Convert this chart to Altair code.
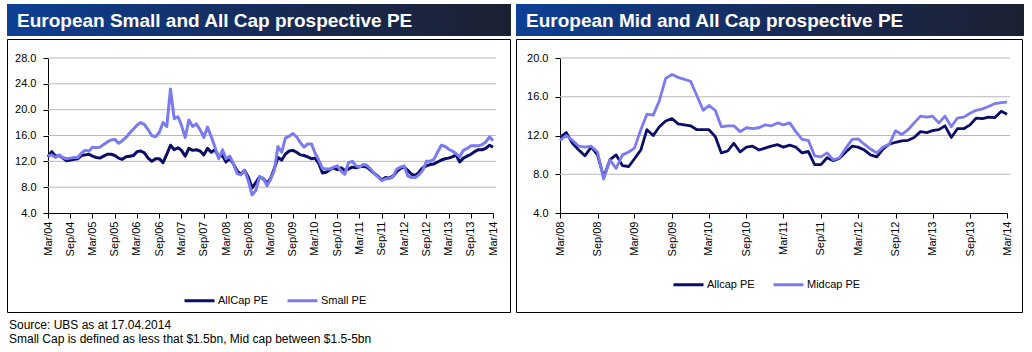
import altair as alt
import pandas as pd

# ---------------- data ----------------
TITLES = ["European Small and All Cap prospective PE",
          "European Mid and All Cap prospective PE"]
NOTES = ["Source: UBS as at 17.04.2014",
         "Small Cap is defined as less that $1.5bn, Mid cap between $1.5-5bn"]

LEFT_SERIES = ["AllCap PE", "Small PE"]
LEFT_START = "2004-03-01"
LEFT_ALLCAP = [
    12.7, 13.5, 12.8, 12.9, 12.5, 12.1, 12.2, 12.3, 12.4, 12.9,
    13.0, 13.1, 12.8, 12.6, 12.5, 12.8, 13.1, 13.1, 12.9, 12.5,
    12.3, 12.7, 12.8, 12.9, 13.5, 13.6, 13.3, 12.5, 12.0, 12.4,
    12.4, 11.8, 13.1, 14.5, 13.8, 14.1, 13.7, 12.8, 14.0, 13.7,
    13.8, 13.6, 13.0, 14.0, 13.4, 13.8, 12.7, 12.9, 11.9, 12.4,
    11.6, 10.5, 10.0, 10.6, 9.5, 7.9, 8.7, 9.6, 9.3, 8.6,
    9.3, 10.9, 12.6, 12.2, 13.1, 13.6, 13.7, 13.4, 13.0, 12.9,
    12.7, 12.4, 12.5, 11.7, 10.2, 10.3, 10.7, 11.0, 10.7, 11.0,
    10.6, 10.8, 11.1, 11.0, 11.2, 11.2, 11.1, 10.6, 10.1, 9.7,
    9.1, 9.5, 9.4, 9.7, 10.4, 10.9, 11.1, 10.6, 10.0, 9.8,
    10.3, 11.0, 11.3, 11.5, 11.6, 11.9, 12.2, 12.4, 12.5, 12.7,
    13.0, 11.9, 12.5, 12.8, 13.1, 13.5, 13.8, 13.8, 14.0, 14.5,
    14.2]
LEFT_SMALL = [
    12.8, 13.0, 12.6, 13.0, 12.6, 12.4, 12.5, 12.6, 12.6, 13.3,
    13.7, 13.6, 14.2, 14.1, 14.2, 14.6, 15.0, 15.3, 15.4, 14.8,
    15.2, 15.7, 16.4, 17.0, 17.6, 18.0, 17.7, 16.9, 16.0, 15.8,
    16.5, 18.0, 17.4, 23.2, 18.6, 18.9, 17.6, 15.7, 18.4, 17.4,
    17.8, 16.9, 15.7, 17.3, 15.8, 14.2, 12.4, 13.8, 12.4, 12.8,
    11.6, 10.1, 9.9, 10.6, 8.9, 6.8, 7.5, 9.6, 9.4, 8.2,
    9.2, 10.6, 14.3, 13.4, 15.6, 15.9, 16.3, 15.8, 14.9, 14.2,
    14.7, 14.7, 13.3, 12.2, 10.9, 10.8, 10.8, 11.1, 11.3, 10.5,
    10.0, 11.8, 12.0, 11.3, 11.1, 11.5, 11.4, 10.8, 10.1, 9.6,
    9.0, 9.3, 9.3, 9.6, 10.8, 11.1, 11.3, 9.7, 9.5, 9.5,
    9.9, 10.6, 12.0, 12.0, 12.3, 13.4, 14.5, 14.3, 13.9, 13.6,
    13.2, 12.7, 13.7, 14.0, 14.4, 14.4, 14.4, 14.6, 15.0, 15.8,
    15.2]
LEFT_Y_TICKS = [4.0, 8.0, 12.0, 16.0, 20.0, 24.0, 28.0]
LEFT_X_LABELS = ["Mar/04", "Sep/04", "Mar/05", "Sep/05", "Mar/06", "Sep/06",
                 "Mar/07", "Sep/07", "Mar/08", "Sep/08", "Mar/09", "Sep/09",
                 "Mar/10", "Sep/10", "Mar/11", "Sep/11", "Mar/12", "Sep/12",
                 "Mar/13", "Sep/13", "Mar/14"]

RIGHT_SERIES = ["Allcap PE", "Midcap PE"]
RIGHT_START = "2008-03-01"
RIGHT_ALLCAP = [
    11.8, 12.3, 11.2, 10.5, 9.9, 10.8, 10.0, 7.7, 9.5, 10.0,
    8.9, 8.8, 9.6, 10.5, 12.6, 12.0, 12.9, 13.5, 13.75, 13.2,
    13.1, 13.0, 12.6, 12.6, 12.6, 11.9, 10.2, 10.4, 11.2, 10.3,
    10.8, 10.9, 10.5, 10.7, 10.9, 11.05, 10.8, 11.0, 10.8, 10.2,
    10.35, 9.0, 9.0, 9.7, 9.4, 9.65, 10.3, 10.9, 10.8, 10.5,
    10.0, 9.8, 10.6, 11.1, 11.3, 11.45, 11.5, 11.8, 12.4, 12.3,
    12.5, 12.6, 13.0, 11.8, 12.7, 12.7, 13.1, 13.8, 13.75, 13.9,
    13.85, 14.5, 14.2]
RIGHT_MIDCAP = [
    11.5, 12.0, 11.5, 10.9, 10.8, 10.9, 10.3, 7.5, 9.5, 8.6,
    10.0, 10.3, 10.7, 12.6, 14.2, 14.1, 15.6, 17.9, 18.3, 18.0,
    17.8, 17.6, 16.1, 14.6, 15.1, 14.6, 12.9, 13.0, 13.0, 12.4,
    12.8, 12.7, 12.8, 13.1, 13.0, 13.3, 13.1, 13.3, 12.4, 11.6,
    11.5, 9.9, 9.8, 10.2, 9.5, 9.7, 10.7, 11.6, 11.65, 11.1,
    10.6, 10.2, 10.8, 11.1, 12.5, 12.1, 12.6, 13.3, 14.0, 13.9,
    14.0, 13.3, 14.0, 12.9, 13.8, 13.9, 14.3, 14.6, 14.75, 15.0,
    15.3, 15.4, 15.45]
RIGHT_Y_TICKS = [4.0, 8.0, 12.0, 16.0, 20.0]
RIGHT_X_LABELS = ["Mar/08", "Sep/08", "Mar/09", "Sep/09", "Mar/10", "Sep/10",
                  "Mar/11", "Sep/11", "Mar/12", "Sep/12", "Mar/13", "Sep/13",
                  "Mar/14"]

# ---------------- style ----------------
W, H = 1032, 352
Y_TOP, Y_BOTTOM = 58, 213
DARK = "#0b0b68"
LIGHT = "#7b7bf0"
FONT = "Liberation Sans"
NARROW = "Liberation Sans Narrow, Arial Narrow, Liberation Sans"
MONTHS = {"Jan": 1, "Feb": 2, "Mar": 3, "Apr": 4, "May": 5, "Jun": 6,
          "Jul": 7, "Aug": 8, "Sep": 9, "Oct": 10, "Nov": 11, "Dec": 12}


def to_dt(label):
    m, y = label.split("/")
    return alt.DateTime(year=2000 + int(y), month=MONTHS[m], date=1)


def series_frame(start, names, a, b):
    dates = pd.date_range(start, periods=len(a), freq="MS").strftime("%Y-%m-%dT00:00:00").tolist()
    return pd.DataFrame({
        "date": dates + dates,
        "value": a + b,
        "series": [names[0]] * len(a) + [names[1]] * len(b),
    })


def one(**cols):
    return pd.DataFrame({k: [v] for k, v in cols.items()})


def rect_layer(x0, x1, y0, y1, **mark):
    return alt.Chart(one(k=0)).mark_rect(**mark).encode(
        x=alt.value(x0), x2=alt.value(x1), y=alt.value(y0), y2=alt.value(y1))


def text_layer(txt, x, y, size, color, weight="normal"):
    return alt.Chart(one(t=txt)).mark_text(
        align="left", baseline="alphabetic", font=FONT, fontSize=size,
        color=color, fontWeight=weight).encode(
        x=alt.value(x), y=alt.value(y), text="t:N")


def panel(df, names, x_labels, y_ticks, x0, x1, legend_x, legend_y, lw):
    xs = alt.Scale(domain=[to_dt(x_labels[0]), to_dt(x_labels[-1])],
                   range=[x0, x1], nice=False)
    ys = alt.Scale(domain=[y_ticks[0], y_ticks[-1]], range=[Y_BOTTOM, Y_TOP],
                   nice=False, zero=False)
    grid = alt.Chart(pd.DataFrame({"v": y_ticks[1:]})).mark_rule(
        color="#b9b9b9", strokeWidth=1).encode(
        y=alt.Y("v:Q", scale=ys, axis=None),
        x=alt.value(x0), x2=alt.value(x1 + 3))
    lines = alt.Chart(df).mark_line(strokeWidth=lw, strokeJoin="round").encode(
        x=alt.X("date:T", scale=xs, title=None, axis=alt.Axis(
            orient="bottom", offset=Y_BOTTOM - H,
            values=[to_dt(l) for l in x_labels], format="%b/%y",
            labelAngle=270, labelFont=NARROW, labelFontSize=11,
            labelColor="black", labelPadding=3, tickSize=5,
            tickColor="black", domainColor="black", grid=False,
            labelOverlap=False, labelFlush=False)),
        y=alt.Y("value:Q", scale=ys, title=None, axis=alt.Axis(
            orient="left", offset=-x0, values=y_ticks, format=".1f",
            labelFont=FONT, labelFontSize=11, labelColor="black",
            labelPadding=7, tickSize=5, tickColor="black",
            domainColor="black", grid=False, labelOverlap=False,
            labelFlush=False)),
        color=alt.Color("series:N", sort=names,
                        scale=alt.Scale(domain=names, range=[DARK, LIGHT]),
                        legend=alt.Legend(
                            title=None, orient="none", legendX=legend_x,
                            legendY=legend_y, direction="horizontal",
                            symbolType="stroke", symbolSize=900,
                            symbolStrokeWidth=3, labelFont=NARROW,
                            labelFontSize=11, labelColor="black",
                            labelOffset=2, columnPadding=12, padding=0)),
    )
    return [grid, lines]


left_df = series_frame(LEFT_START, LEFT_SERIES, LEFT_ALLCAP, LEFT_SMALL)
right_df = series_frame(RIGHT_START, RIGHT_SERIES, RIGHT_ALLCAP, RIGHT_MIDCAP)

grad = alt.LinearGradient(
    gradient="linear", x1=0, x2=1, y1=0, y2=0,
    stops=[alt.GradientStop(color="#0d4096", offset=0),
           alt.GradientStop(color="#172a55", offset=0.55),
           alt.GradientStop(color="#1c2131", offset=1)])

layers = [
    rect_layer(7, 511, 4, 36, fill=grad),
    rect_layer(516, 1024, 4, 36, fill=grad),
    rect_layer(7.5, 510.5, 39.5, 312.5, filled=False, stroke="black", strokeWidth=1),
    rect_layer(516.5, 1022.5, 39.5, 312.5, filled=False, stroke="black", strokeWidth=1),
    text_layer(TITLES[0], 17, 27, 19, "white", "bold"),
    text_layer(TITLES[1], 526, 27, 19, "white", "bold"),
    text_layer(NOTES[0], 9, 329, 12, "black"),
    text_layer(NOTES[1], 9, 343, 12, "black"),
]
layers += panel(left_df, LEFT_SERIES, LEFT_X_LABELS, LEFT_Y_TICKS,
                48, 493, 183, 284, 3)
layers += panel(right_df, RIGHT_SERIES, RIGHT_X_LABELS, RIGHT_Y_TICKS,
                560, 1007, 672, 268, 2.8)

chart = alt.layer(*layers).resolve_scale(
    x="independent", y="independent", color="independent"
).properties(
    width=W, height=H, autosize=alt.AutoSizeParams(type="none"),
    padding=0, background="white"
).configure_view(stroke=None)

chart.save("out.html", embed_options={"renderer": "svg", "actions": False})
